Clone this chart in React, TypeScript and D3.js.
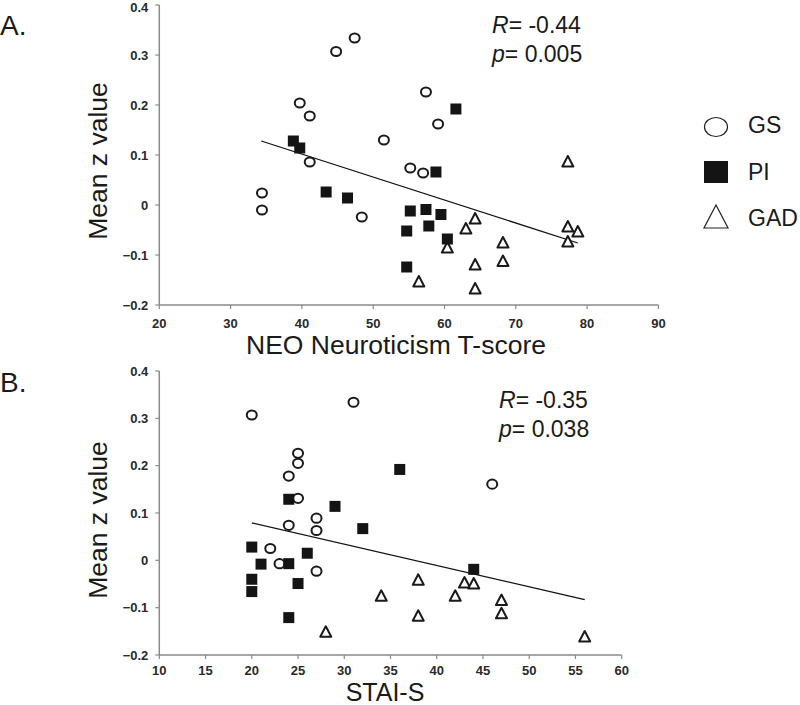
import React from "react";
import * as d3 from "d3";

// Panel A: NEO Neuroticism T-score vs Mean z value
const gsA: [number, number][] = [
  [39.7, 0.204], [41.1, 0.178], [44.8, 0.307], [47.4, 0.334], [51.5, 0.13],
  [57.4, 0.226], [59.1, 0.162], [34.4, 0.024], [34.4, -0.01], [41.1, 0.086],
  [48.4, -0.024], [55.2, 0.074], [57.0, 0.064],
];
const piA: [number, number][] = [
  [38.8, 0.128], [39.7, 0.114], [61.6, 0.192], [43.4, 0.026], [46.4, 0.014],
  [58.8, 0.066], [55.2, -0.012], [57.4, -0.009], [59.5, -0.019], [54.7, -0.052],
  [57.8, -0.042], [60.4, -0.068], [54.7, -0.124],
];
const gadA: [number, number][] = [
  [77.3, 0.086], [64.3, -0.028], [63.0, -0.048], [60.4, -0.086], [68.2, -0.076],
  [68.2, -0.113], [64.3, -0.12], [56.4, -0.154], [64.3, -0.168], [77.3, -0.044],
  [78.7, -0.054], [77.3, -0.074],
];
const fitA: [number, number][] = [[34.3, 0.128], [78.7, -0.076]];

// Panel B: STAI-S vs Mean z value
const gsB: [number, number][] = [
  [20, 0.307], [31, 0.334], [25, 0.226], [25, 0.205], [24, 0.178], [25, 0.131],
  [27, 0.089], [24, 0.074], [27, 0.063], [22, 0.025], [23, -0.007], [27, -0.023],
  [46, 0.161],
];
const piB: [number, number][] = [
  [24, 0.129], [29, 0.114], [32, 0.067], [20, 0.028], [21, -0.008], [24, -0.007],
  [26, 0.015], [20, -0.04], [20, -0.066], [25, -0.049], [24, -0.121], [36, 0.192],
  [44, -0.019],
];
const gadB: [number, number][] = [
  [28, -0.152], [34, -0.076], [38, -0.042], [43, -0.048], [44, -0.05], [42, -0.076],
  [47, -0.085], [47, -0.113], [38, -0.118], [56, -0.162],
];
const fitB: [number, number][] = [[20, 0.079], [56, -0.083]];

const yTicks = [-0.2, -0.1, 0, 0.1, 0.2, 0.3, 0.4];
const xTicksA = [20, 30, 40, 50, 60, 70, 80, 90];
const xTicksB = [10, 15, 20, 25, 30, 35, 40, 45, 50, 55, 60];
const legendLabels = ["GS", "PI", "GAD"];

const FONT = "'Liberation Sans', Arial, sans-serif";
const AXIS = "#8a8a8a";

function fmtY(v: number) {
  if (v === 0) return "0";
  return d3.format(".1f")(v);
}

function Circle({ cx, cy }: { cx: number; cy: number }) {
  return <ellipse cx={cx} cy={cy} rx={5} ry={4.6} fill="#fff" stroke="#1a1a1a" strokeWidth={2} />;
}
function Square({ cx, cy }: { cx: number; cy: number }) {
  return <rect x={cx - 5.5} y={cy - 5.5} width={11} height={11} fill="#141414" />;
}
function Tri({ cx, cy }: { cx: number; cy: number }) {
  const p = `${cx},${cy - 6} ${cx - 5.5},${cy + 4.5} ${cx + 5.5},${cy + 4.5}`;
  return <polygon points={p} fill="#fff" stroke="#1a1a1a" strokeWidth={2} strokeLinejoin="round" />;
}

type PanelProps = {
  x: d3.ScaleLinear<number, number>;
  y: d3.ScaleLinear<number, number>;
  xTicks: number[];
  gs: [number, number][];
  pi: [number, number][];
  gad: [number, number][];
  fit: [number, number][];
  xTitle: string;
  xTitleX: number;
  xTitleY: number;
  xTitleSize: number;
  xTickDy: number;
  yTitleY: number;
  label: string;
  labelY: number;
  r: string;
  p: string;
  statX: number;
  statY: number;
};

function Panel(props: PanelProps) {
  const { x, y, xTicks, gs, pi, gad, fit } = props;
  const [x0, x1] = x.range();
  const [yb, yt] = y.range();
  const line = d3.line<[number, number]>().x((d) => x(d[0])).y((d) => y(d[1]));
  return (
    <g>
      <text x={0} y={props.labelY} fontSize={28} fontFamily={FONT} fill="#1a1a1a">{props.label}</text>
      {/* axes */}
      <line x1={x0} x2={x0} y1={yt} y2={yb} stroke={AXIS} strokeWidth={1.5} />
      <line x1={x0} x2={x1} y1={yb} y2={yb} stroke={AXIS} strokeWidth={1.5} />
      {yTicks.map((t) => (
        <g key={"y" + t}>
          <line x1={x0 - 4} x2={x0} y1={y(t)} y2={y(t)} stroke={AXIS} strokeWidth={1.2} />
          <text x={x0 - 11} y={Math.max(y(t), 7)} dy="0.35em" textAnchor="end" fontSize={13} fontWeight="bold" fontFamily={FONT} fill="#2a2a2a">
            {fmtY(t)}
          </text>
        </g>
      ))}
      {xTicks.map((t) => (
        <g key={"x" + t}>
          <line x1={x(t)} x2={x(t)} y1={yb} y2={yb + 4} stroke={AXIS} strokeWidth={1.2} />
          <text x={x(t)} y={yb + props.xTickDy} textAnchor="middle" fontSize={13} fontWeight="bold" fontFamily={FONT} fill="#2a2a2a">
            {t}
          </text>
        </g>
      ))}
      <text x={props.xTitleX} y={props.xTitleY} textAnchor="middle" fontSize={props.xTitleSize} fontFamily={FONT} fill="#1a1a1a">
        {props.xTitle}
      </text>
      <text transform={`translate(107,${props.yTitleY}) rotate(-90)`} textAnchor="middle" fontSize={26.5} fontFamily={FONT} fill="#1a1a1a">
        Mean z value
      </text>
      {/* fit line */}
      <path d={line(fit) || ""} fill="none" stroke="#111" strokeWidth={1.3} />
      {/* points */}
      {gs.map((d, i) => <Circle key={"g" + i} cx={x(d[0])} cy={y(d[1])} />)}
      {gad.map((d, i) => <Tri key={"t" + i} cx={x(d[0])} cy={y(d[1])} />)}
      {pi.map((d, i) => <Square key={"s" + i} cx={x(d[0])} cy={y(d[1])} />)}
      {/* stats */}
      <text x={props.statX} y={props.statY} fontSize={23} fontFamily={FONT} fill="#1a1a1a">
        <tspan fontStyle="italic">R</tspan>= {props.r}
      </text>
      <text x={props.statX} y={props.statY + 29} fontSize={23} fontFamily={FONT} fill="#1a1a1a">
        <tspan fontStyle="italic">p</tspan>= {props.p}
      </text>
    </g>
  );
}

export default function App() {
  const xA = d3.scaleLinear().domain([20, 90]).range([159.3, 658.4]);
  const yA = d3.scaleLinear().domain([-0.2, 0.4]).range([305, 5]);
  const xB = d3.scaleLinear().domain([10, 60]).range([159.3, 621.7]);
  const yB = d3.scaleLinear().domain([-0.2, 0.4]).range([655, 371]);
  const legendY = [125, 172, 218];
  return (
    <svg width={800} height={705} style={{ position: "absolute", left: 0, top: 0, background: "#fff" }}>
      <rect width={800} height={705} fill="#fff" />
      <Panel x={xA} y={yA} xTicks={xTicksA} gs={gsA} pi={piA} gad={gadA} fit={fitA}
        xTitle="NEO Neuroticism T-score" xTitleX={396} xTitleY={354} xTitleSize={26.5} xTickDy={23} yTitleY={161}
        label="A." labelY={35} r="-0.44" p="0.005" statX={492} statY={33} />
      <Panel x={xB} y={yB} xTicks={xTicksB} gs={gsB} pi={piB} gad={gadB} fit={fitB}
        xTitle="STAI-S" xTitleX={385} xTitleY={701} xTitleSize={25} xTickDy={20} yTitleY={520}
        label="B." labelY={392} r="-0.35" p="0.038" statX={499} statY={408} />
      {/* legend */}
      <g>
        <ellipse cx={716} cy={legendY[0] + 2} rx={11.5} ry={9.5} fill="#fff" stroke="#222" strokeWidth={1.2} />
        <rect x={704} y={legendY[1] - 11} width={24} height={22} fill="#141414" />
        <polygon points={`716,${legendY[2] - 13} 704,${legendY[2] + 10} 728,${legendY[2] + 10}`} fill="#fff" stroke="#222" strokeWidth={1.2} />
        {legendLabels.map((l, i) => (
          <text key={l} x={748} y={legendY[i]} dy="0.35em" fontSize={23} fontFamily={FONT} fill="#1a1a1a">{l}</text>
        ))}
      </g>
    </svg>
  );
}
